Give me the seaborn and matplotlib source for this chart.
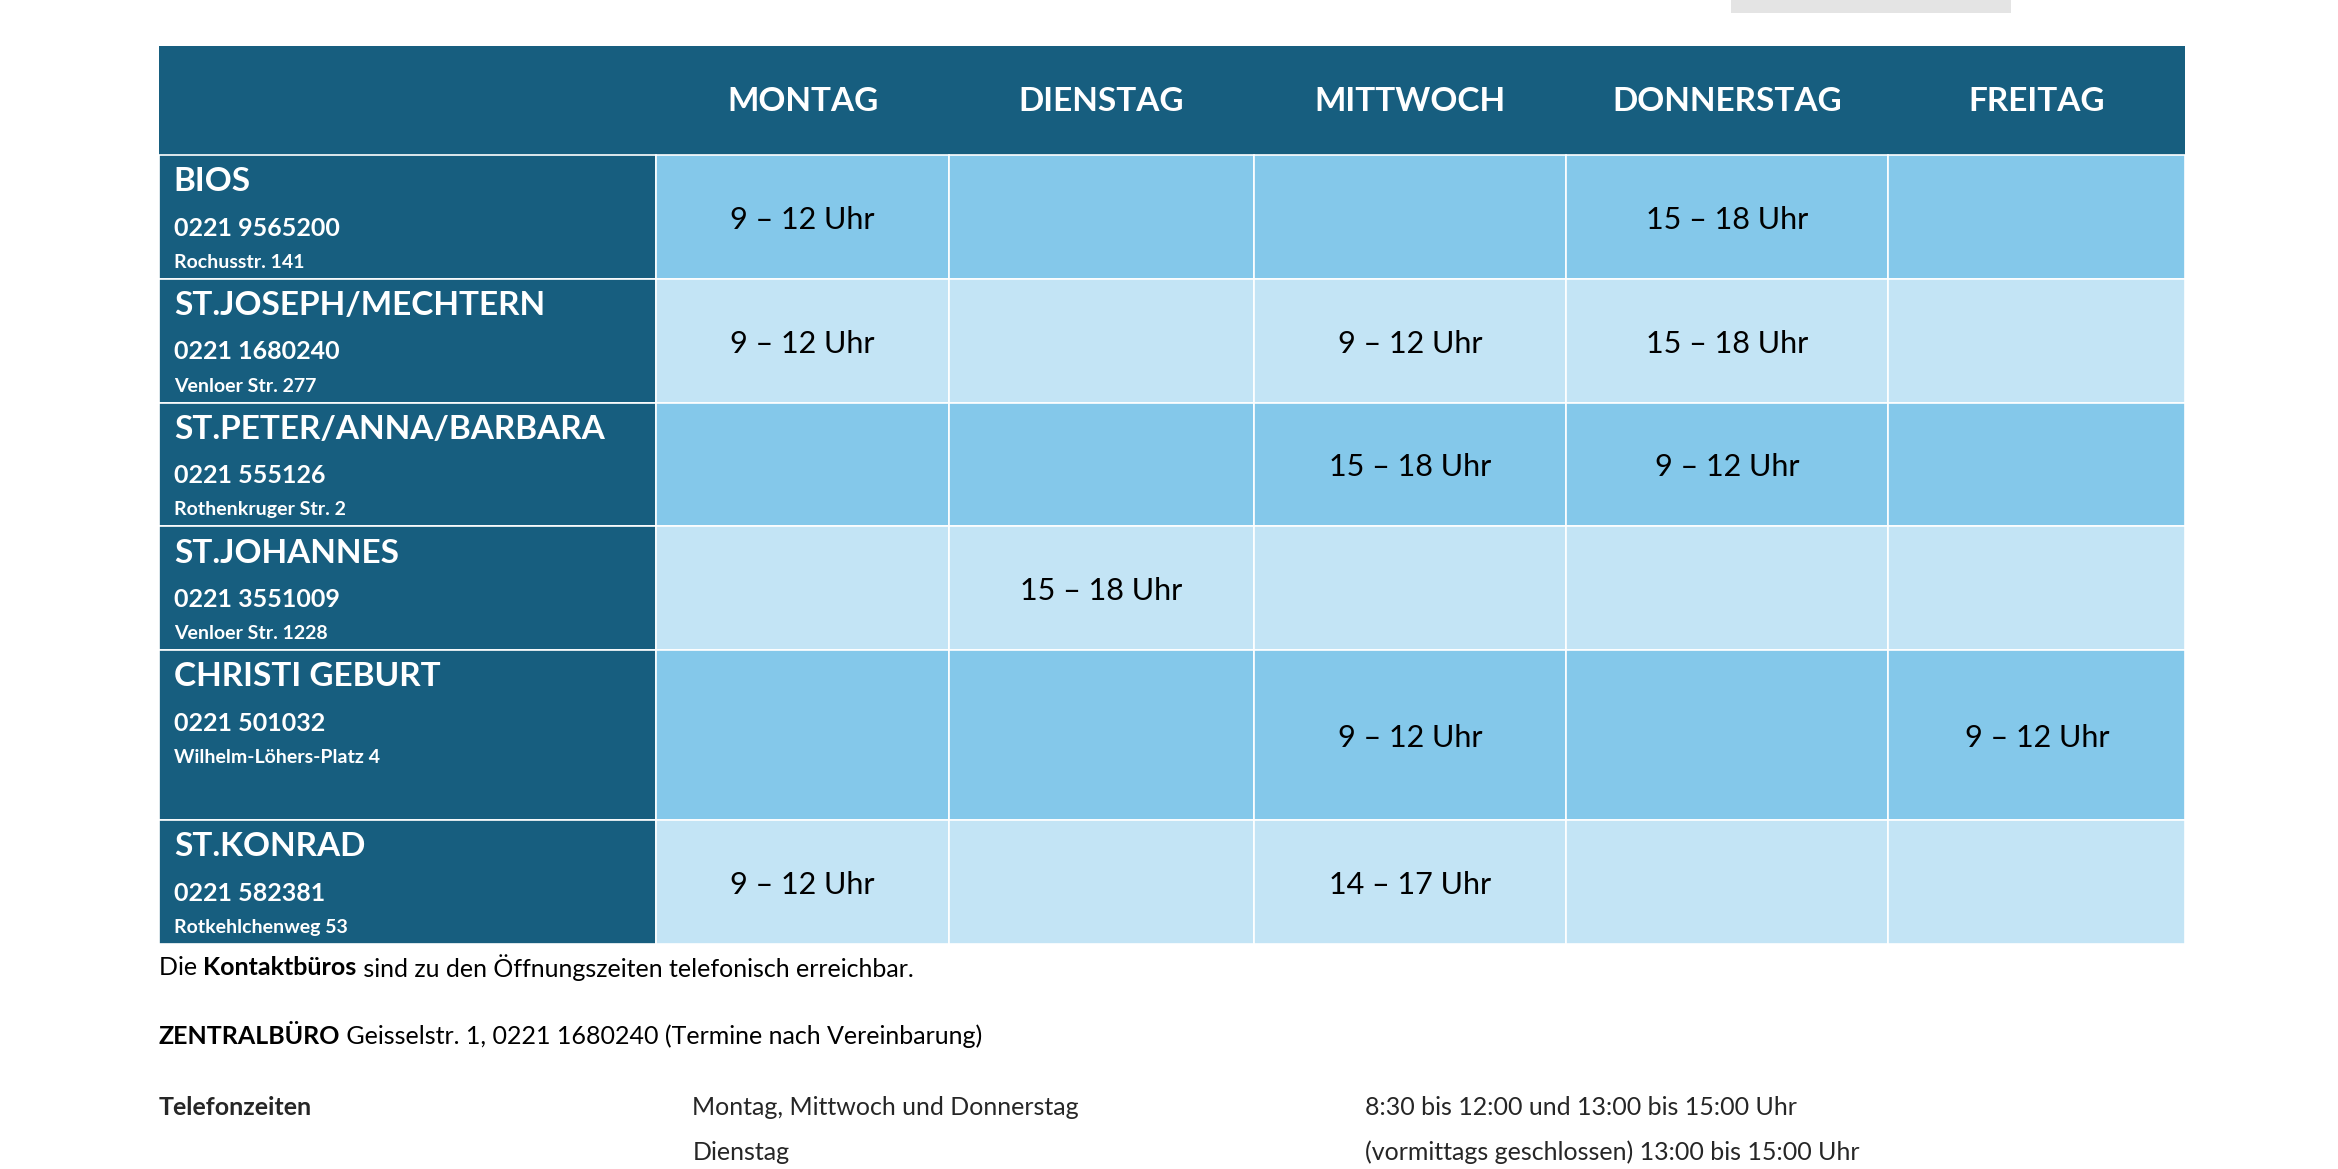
import matplotlib
matplotlib.use("Agg")
import matplotlib.pyplot as plt
from matplotlib.patches import Rectangle
import seaborn as sns

sns.set_theme(style="white")
plt.rcParams['font.family'] = ['Lato', 'DejaVu Sans']

days = ["MONTAG", "DIENSTAG", "MITTWOCH", "DONNERSTAG", "FREITAG"]
offices = ["BIOS", "ST.JOSEPH/MECHTERN", "ST.PETER/ANNA/BARBARA", "ST.JOHANNES",
           "CHRISTI GEBURT", "ST.KONRAD"]
phones = ["0221 9565200", "0221 1680240", "0221 555126", "0221 3551009",
          "0221 501032", "0221 582381"]
addresses = ["Rochusstr. 141", "Venloer Str. 277", "Rothenkruger Str. 2",
             "Venloer Str. 1228", "Wilhelm-Löhers-Platz 4", "Rotkehlchenweg 53"]
hours = [
    ["9 – 12 Uhr", "", "", "15 – 18 Uhr", ""],
    ["9 – 12 Uhr", "", "9 – 12 Uhr", "15 – 18 Uhr", ""],
    ["", "", "15 – 18 Uhr", "9 – 12 Uhr", ""],
    ["", "15 – 18 Uhr", "", "", ""],
    ["", "", "9 – 12 Uhr", "", "9 – 12 Uhr"],
    ["9 – 12 Uhr", "", "14 – 17 Uhr", "", ""],
]

# layout in reference pixel units (1560 x 784 canvas)
col_edges = [106, 438, 633, 837, 1045, 1260, 1458]
row_edges = [104, 187, 270, 353, 436, 550, 633]
header_top = 31
dark = "#175E7F"
cell_colors = ["#84C8EA", "#C3E4F5"]

fig = plt.figure(figsize=(23.38, 11.69), dpi=100)
ax = fig.add_axes([0, 0, 1, 1])
ax.set_xlim(0, 1560)
ax.set_ylim(784, 0)
ax.axis("off")

# image fragment at top right
ax.add_patch(Rectangle((1155, 0), 187, 9, color="#E4E4E4", lw=0))

# header band
ax.add_patch(Rectangle((col_edges[0], header_top), col_edges[-1] - col_edges[0],
                       row_edges[0] - header_top, color=dark, lw=0))
for j, d in enumerate(days):
    xc = (col_edges[j + 1] + col_edges[j + 2]) / 2
    ax.text(xc, 68, d, color="white", fontsize=24, fontweight="bold", ha="center", va="center")

for i in range(len(offices)):
    top, bot = row_edges[i], row_edges[i + 1]
    ax.add_patch(Rectangle((col_edges[0], top), col_edges[1] - col_edges[0], bot - top,
                           facecolor=dark, edgecolor="white", lw=1.2))
    ax.text(116, top + 18, offices[i], color="white", fontsize=24, fontweight="bold", va="center")
    ax.text(116, top + 49, phones[i], color="white", fontsize=18, fontweight="bold", va="center")
    ax.text(116, top + 72, addresses[i], color="white", fontsize=14, fontweight="bold", va="center")
    for j in range(len(days)):
        x0, x1 = col_edges[j + 1], col_edges[j + 2]
        ax.add_patch(Rectangle((x0, top), x1 - x0, bot - top,
                               facecolor=cell_colors[i % 2], edgecolor="white", lw=1.2))
        if hours[i][j]:
            ax.text((x0 + x1) / 2, (top + bot) / 2 + 2, hours[i][j], color="black",
                    fontsize=22, ha="center", va="center")

# footer text with mixed bold
fig.canvas.draw()
renderer = fig.canvas.get_renderer()
inv = ax.transData.inverted()


def rich(x, y, parts):
    for txt, bold in parts:
        t = ax.text(x, y, txt, fontsize=18, fontweight="bold" if bold else "normal",
                    va="center", color="black")
        bb = t.get_window_extent(renderer)
        x = inv.transform((bb.x1, bb.y0))[0]


rich(106, 649, [("Die ", False), ("Kontaktbüros", True),
                (" sind zu den Öffnungszeiten telefonisch erreichbar.", False)])
rich(106, 695, [("ZENTRALBÜRO", True),
                (" Geisselstr. 1, 0221 1680240 (Termine nach Vereinbarung)", False)])
ax.text(106, 743, "Telefonzeiten", fontsize=18, fontweight="bold", va="center")
ax.text(462, 743, "Montag, Mittwoch und Donnerstag", fontsize=18, va="center")
ax.text(911, 743, "8:30 bis 12:00 und 13:00 bis 15:00 Uhr", fontsize=18, va="center")
ax.text(462, 773, "Dienstag", fontsize=18, va="center")
ax.text(911, 773, "(vormittags geschlossen) 13:00 bis 15:00 Uhr", fontsize=18, va="center")

fig.savefig("out.png", dpi=100)
